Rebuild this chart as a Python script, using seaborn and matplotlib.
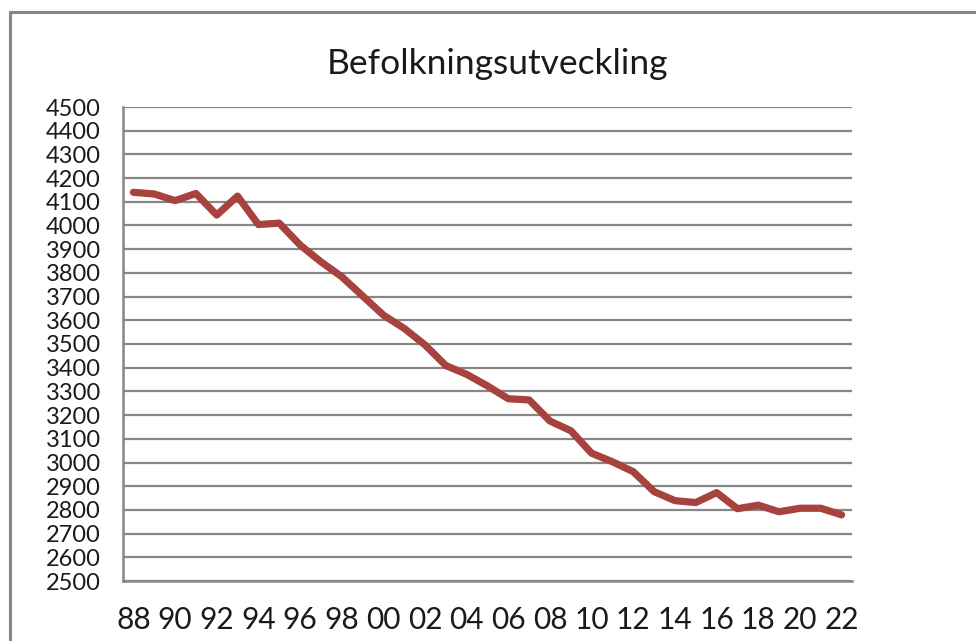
import seaborn as sns
import matplotlib.pyplot as plt
import pandas as pd
from matplotlib.lines import Line2D

# Data (1988-2022)
years = list(range(1988, 2023))
population = [4140, 4133, 4105, 4135, 4044, 4124, 4004, 4010, 3918, 3847,
              3784, 3703, 3622, 3566, 3496, 3409, 3372, 3323, 3269, 3264,
              3175, 3134, 3039, 3003, 2961, 2877, 2839, 2831, 2873, 2805,
              2820, 2792, 2807, 2807, 2779]
year_labels = [f"{y % 100:02d}" for y in years]

df = pd.DataFrame({"idx": range(len(years)), "Befolkning": population})

sns.set_style("white")
plt.rcParams["font.family"] = ["Lato", "DejaVu Sans"]

grey = "#878787"
fig = plt.figure(figsize=(9.76, 6.41), dpi=100)
ax = fig.add_axes([123 / 976, 1 - 581 / 641, (852 - 123) / 976, (581 - 107) / 641])

sns.lineplot(data=df, x="idx", y="Befolkning", color="#A8423F", linewidth=5.2,
             ax=ax, legend=False)

ax.set_xlim(-0.5, len(years) - 0.5)
ax.set_ylim(2500, 4500)
ax.set_yticks(range(2500, 4501, 100))
ax.yaxis.grid(True, color=grey, linewidth=1.6)
ax.set_axisbelow(True)

# labels every other year at category centers, tick marks at boundaries
ax.set_xticks(range(0, len(years), 2))
ax.set_xticklabels(year_labels[::2])
ax.set_xticks([i - 0.5 for i in range(len(years) + 1)], minor=True)
ax.tick_params(axis="x", which="major", length=0, pad=18, labelsize=21.5)
ax.tick_params(axis="x", which="minor", length=7, width=1.6, color=grey, direction="out")
ax.tick_params(axis="y", length=6, width=1.6, color=grey, direction="out",
               labelsize=17, pad=10)
ax.tick_params(colors="#1a1a1a", which="major")
ax.tick_params(axis="both", which="both", color=grey)

for s in ["top", "right"]:
    ax.spines[s].set_visible(False)
for s in ["left", "bottom"]:
    ax.spines[s].set_color(grey)
    ax.spines[s].set_linewidth(1.8)

ax.set_xlabel("")
ax.set_ylabel("")
fig.text(497 / 976, 1 - 64 / 641, "Befolkningsutveckling", ha="center", va="center",
         fontsize=25.5, color="#1a1a1a")

# chart border (only top and left edges are inside the picture)
fig.add_artist(Line2D([9.5 / 976, 1.0], [1 - 11.5 / 641] * 2, color=grey, linewidth=2.2,
                      transform=fig.transFigure))
fig.add_artist(Line2D([9.5 / 976] * 2, [0.0, 1 - 11.5 / 641], color=grey, linewidth=2.2,
                      transform=fig.transFigure))

fig.savefig("out.png", dpi=100)
